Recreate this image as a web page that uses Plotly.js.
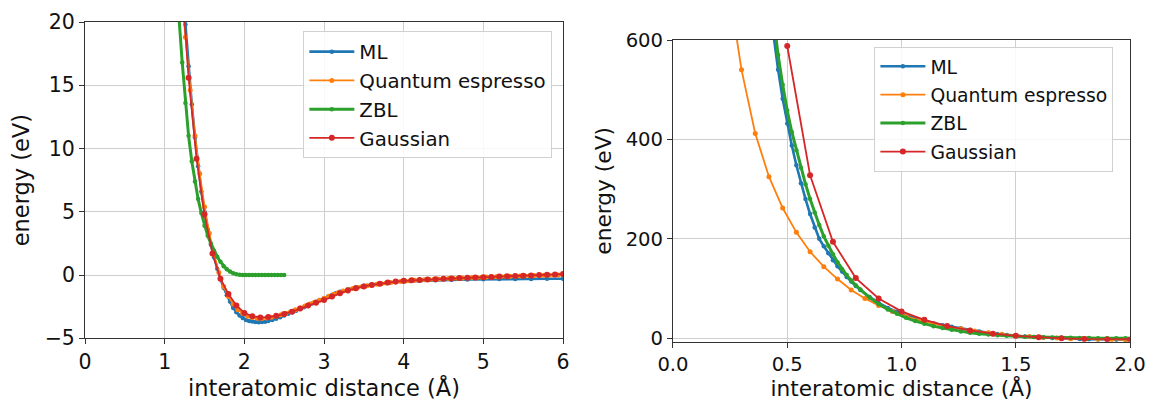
<!DOCTYPE html>
<html>
<head>
<meta charset="utf-8">
<script src="https://cdn.plot.ly/plotly-3.0.1.min.js"></script>
<style>html,body{margin:0;padding:0;background:#fff;}#chart{width:1149px;height:401px;}</style>
</head>
<body>
<div id="chart"></div>
<script>
// ---- data ----
const seriesNames = ["ML", "Quantum espresso", "ZBL", "Gaussian"];

// ML (machine-learned potential)
const r_ml = [0.42,0.44,0.46,0.48,0.50,0.52,0.54,0.56,0.58,0.60,0.62,0.64,0.66,0.68,0.70,0.72,0.74,0.76,0.78,0.80,0.82,0.86,0.90,0.94,0.98,1.02,1.06,1.10,1.14,1.18,1.22,1.26,1.30,1.34,1.38,1.42,1.46,1.50,1.54,1.58,1.62,1.66,1.70,1.74,1.78,1.82,1.86,1.90,1.94,1.98,2.02,2.06,2.10,2.14,2.18,2.22,2.26,2.30,2.35,2.40,2.45,2.50,2.55,2.60,2.65,2.70,2.75,2.80,2.85,2.90,2.95,3.00,3.05,3.10,3.15,3.20,3.30,3.40,3.50,3.60,3.70,3.80,3.90,4.00,4.20,4.40,4.60,4.80,5.00,5.20,5.40,5.60,5.80,6.00];
const e_ml = [680,605,540,482,432,388,348,312,280,250,223,200,185,171,157,145,134,123,114,105,97,83,71,61,53,46,40,35,30,26,23,19.8,16.5,13.5,10.9,8.6,6.6,5.0,3.6,2.4,1.4,0.5,-0.3,-1.0,-1.6,-2.1,-2.6,-2.95,-3.2,-3.4,-3.55,-3.63,-3.68,-3.71,-3.73,-3.72,-3.69,-3.64,-3.55,-3.45,-3.33,-3.2,-3.07,-2.95,-2.82,-2.68,-2.54,-2.4,-2.26,-2.12,-1.98,-1.85,-1.72,-1.58,-1.45,-1.33,-1.12,-0.96,-0.84,-0.75,-0.67,-0.6,-0.55,-0.51,-0.45,-0.41,-0.38,-0.35,-0.33,-0.32,-0.31,-0.31,-0.3,-0.3];

// Quantum espresso
const r_qe = [0.24,0.30,0.36,0.42,0.48,0.54,0.60,0.66,0.72,0.78,0.84,0.90,0.96,1.02,1.08,1.14,1.20,1.26,1.32,1.38,1.44,1.50,1.56,1.62,1.68,1.74,1.80,1.86,1.92,1.98,2.04,2.10,2.16,2.22,2.28,2.34,2.40,2.46,2.52,2.58,2.64,2.70,2.76,2.82,2.88,2.94,3.00,3.06,3.12,3.18,3.24,3.30,3.36,3.42,3.48,3.54,3.60,3.66,3.72,3.78,3.84,3.90,3.96,4.02,4.08,4.14,4.20,4.26,4.32,4.38,4.44,4.50,4.56,4.62,4.68,4.74,4.80,4.86,4.92,4.98,5.04,5.10,5.16,5.22,5.28,5.34,5.40,5.46,5.52,5.58,5.64,5.70,5.76,5.82,5.88,5.94,6.00];
const e_qe = [720,540,412,325,262,213,174,144,119,97,80,66,54,44,36,29,23.5,18.8,14.6,11.0,8.0,5.4,3.3,1.6,0.2,-0.9,-1.7,-2.3,-2.75,-3.05,-3.25,-3.36,-3.42,-3.43,-3.4,-3.34,-3.25,-3.15,-3.03,-2.9,-2.75,-2.6,-2.45,-2.3,-2.15,-1.99,-1.83,-1.67,-1.52,-1.38,-1.26,-1.15,-1.06,-0.98,-0.9,-0.84,-0.78,-0.73,-0.68,-0.63,-0.59,-0.55,-0.51,-0.48,-0.45,-0.42,-0.4,-0.38,-0.36,-0.34,-0.32,-0.3,-0.28,-0.26,-0.25,-0.23,-0.22,-0.2,-0.19,-0.17,-0.16,-0.14,-0.13,-0.12,-0.1,-0.09,-0.08,-0.07,-0.06,-0.05,-0.04,-0.03,-0.02,-0.01,0.0,0.01,0.02];

// ZBL
const r_zbl = [0.42,0.44,0.46,0.48,0.50,0.52,0.54,0.56,0.58,0.60,0.62,0.64,0.66,0.68,0.70,0.72,0.74,0.76,0.78,0.80,0.82,0.86,0.90,0.94,0.98,1.02,1.06,1.10,1.14,1.18,1.22,1.26,1.30,1.34,1.38,1.42,1.46,1.50,1.54,1.58,1.62,1.66,1.70,1.74,1.78,1.82,1.86,1.90,1.94,1.98,2.02,2.06,2.10,2.14,2.18,2.22,2.26,2.30,2.34,2.38,2.42,2.46,2.50];
const e_zbl = [720,640,570,510,458,415,378,343,310,280,253,228,205,186,169,153,139,127,116,106,98,82,69,58,49,41,34.5,29,24.3,20.3,16.8,13.6,11.0,9.0,7.4,6.0,4.9,3.9,3.1,2.5,1.9,1.45,1.05,0.7,0.45,0.27,0.14,0.06,0.02,0.01,0,0,0,0,0,0,0,0,0,0,0,0,0];

// Gaussian
const r_gau = [0.5,0.6,0.7,0.8,0.9,1.0,1.1,1.2,1.3,1.4,1.5,1.6,1.7,1.8,1.9,2.0,2.1,2.2,2.3,2.4,2.5,2.6,2.7,2.8,2.9,3.0,3.1,3.2,3.3,3.4,3.5,3.6,3.7,3.8,3.9,4.0,4.1,4.2,4.3,4.4,4.5,4.6,4.7,4.8,4.9,5.0,5.1,5.2,5.3,5.4,5.5,5.6,5.7,5.8,5.9,6.0];
const e_gau = [588,328,194,121,80,54,37,24.5,15.6,9.2,4.8,1.7,-0.3,-1.5,-2.4,-3.0,-3.25,-3.35,-3.32,-3.22,-3.08,-2.9,-2.65,-2.4,-2.2,-1.98,-1.7,-1.45,-1.22,-1.05,-0.9,-0.78,-0.68,-0.6,-0.52,-0.46,-0.42,-0.39,-0.36,-0.33,-0.3,-0.27,-0.24,-0.22,-0.2,-0.18,-0.15,-0.12,-0.1,-0.08,-0.05,-0.03,0.0,0.03,0.05,0.08];

// tick labels
const leftXTicks = [0,1,2,3,4,5,6];
const leftYTicks = [-5,0,5,10,15,20];
const rightXTicks = [0,0.5,1.0,1.5,2.0];
const rightYTicks = [0,200,400,600];
const xTitle = "interatomic distance (Å)";
const yTitle = "energy (eV)";

// ---- styling ----
const colors = ["#1f77b4", "#ff7f0e", "#2ca02c", "#d62728"];
const lineW = [2.6, 1.8, 3, 1.8];
const markS = [4.5, 5, 4.5, 6];
const xs = [r_ml, r_qe, r_zbl, r_gau];
const ys = [e_ml, e_qe, e_zbl, e_gau];

const traces = [];
[["x","y","legend",""],["x2","y2","legend2","b"]].forEach(function(ax){
  for (let i = 0; i < 4; i++) {
    traces.push({
      type: "scatter", mode: "lines+markers",
      x: xs[i], y: ys[i], name: seriesNames[i],
      xaxis: ax[0], yaxis: ax[1], legend: ax[2],
      legendgroup: "g" + i + ax[3],
      line: {color: colors[i], width: lineW[i]},
      marker: {color: colors[i], size: markS[i], symbol: "circle"},
      cliponaxis: true
    });
  }
});

const font = "DejaVu Sans, Liberation Sans, sans-serif";
function axisBase(extra) {
  return Object.assign({
    showgrid: true, gridcolor: "#cfcfcf", gridwidth: 1,
    zeroline: false, showline: true, mirror: true,
    linecolor: "#333", linewidth: 1,
    ticks: "outside", ticklen: 5, tickwidth: 1, tickcolor: "#333",
    automargin: false, fixedrange: true
  }, extra);
}

const layout = {
  width: 1149, height: 401,
  margin: {l: 0, r: 0, t: 0, b: 0},
  paper_bgcolor: "#ffffff", plot_bgcolor: "#ffffff",
  font: {family: font, color: "#111"},
  showlegend: true,
  xaxis: axisBase({domain: [0.0740, 0.4900], anchor: "y", range: [0, 6],
    tickvals: leftXTicks, tickfont: {size: 20.5},
    title: {text: xTitle, font: {size: 22.5}, standoff: 6}}),
  yaxis: axisBase({domain: [0.1564, 0.9451], anchor: "x", range: [-5, 20],
    tickvals: leftYTicks, tickfont: {size: 20.5},
    title: {text: yTitle, font: {size: 22.5}, standoff: 8}}),
  xaxis2: axisBase({domain: [0.5857, 0.9835], anchor: "y2", range: [0, 2],
    tickvals: rightXTicks, tickformat: ".1f", tickfont: {size: 19.6},
    title: {text: xTitle, font: {size: 21.7}, standoff: 6}}),
  yaxis2: axisBase({domain: [0.1479, 0.9002], anchor: "x2", range: [-7, 600],
    tickvals: rightYTicks, tickfont: {size: 19.6},
    title: {text: yTitle, font: {size: 21.7}, standoff: 8}}),
  legend: {x: 0.264, y: 0.922, xanchor: "left", yanchor: "top",
    bgcolor: "rgba(255,255,255,0.85)", bordercolor: "#d0d0d0", borderwidth: 1,
    font: {size: 19.8, color: "#111"}, tracegroupgap: 0, traceorder: "grouped",
    itemwidth: 45},
  legend2: {x: 0.761, y: 0.884, xanchor: "left", yanchor: "top",
    bgcolor: "rgba(255,255,255,0.85)", bordercolor: "#d0d0d0", borderwidth: 1,
    font: {size: 18.8, color: "#111"}, tracegroupgap: 1, traceorder: "grouped",
    itemwidth: 45}
};

Plotly.newPlot("chart", traces, layout, {staticPlot: true, displayModeBar: false});
</script>
</body>
</html>
